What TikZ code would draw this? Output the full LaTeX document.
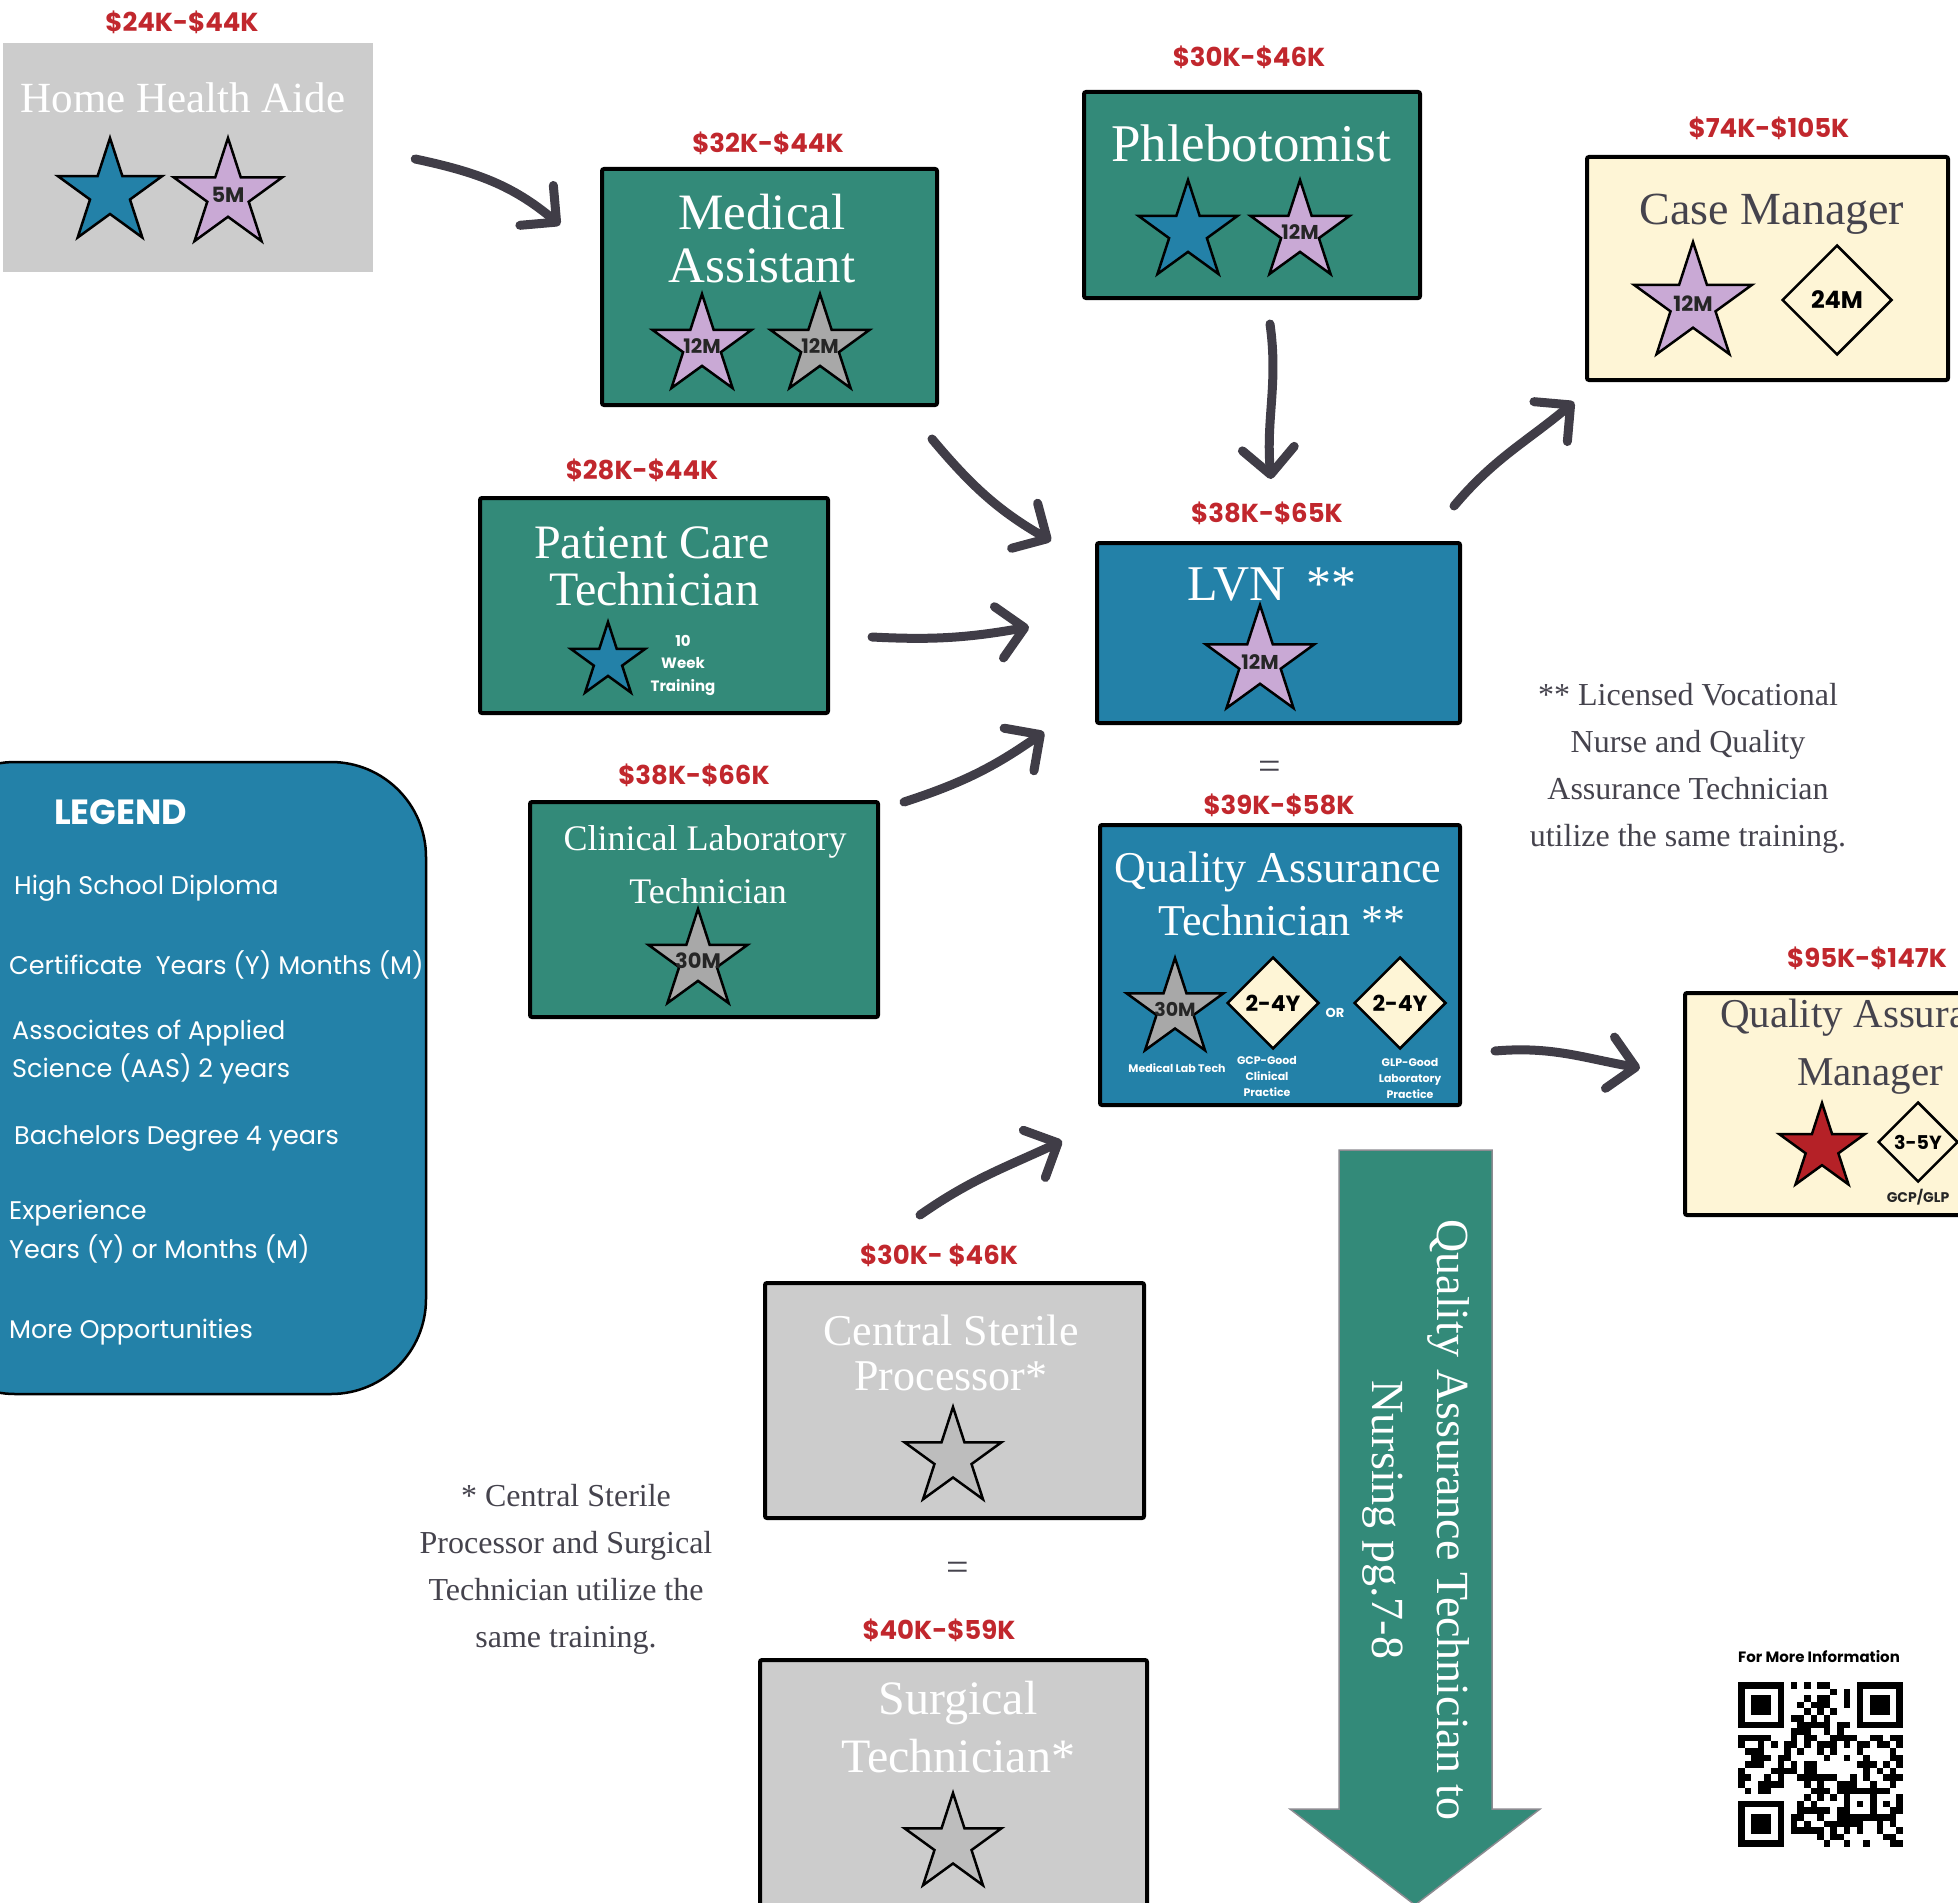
\documentclass[tikz,border=0pt]{standalone}
\usepackage{fontspec}
\setmainfont{Liberation Serif}
\newfontfamily\pop{Poppins}
\usetikzlibrary{shapes.geometric,arrows.meta,calc}
\definecolor{cteal}{HTML}{338A79}
\definecolor{cblue}{HTML}{2381A8}
\definecolor{cgray}{HTML}{CCCCCC}
\definecolor{ccream}{HTML}{FEF5D6}
\definecolor{cpink}{HTML}{C9A9D5}
\definecolor{cstargray}{HTML}{A8A8A8}
\definecolor{cstargrayb}{HTML}{BDBDBD}
\definecolor{cred}{HTML}{B52127}
\definecolor{csal}{HTML}{C1272D}
\definecolor{carrow}{HTML}{403D47}
\definecolor{ctext}{HTML}{45434D}
\tikzset{
  x=1pt,y=1pt,
  box/.style={rectangle, draw=black, line width=4pt, inner sep=0pt, rounded corners=2pt},
  ttl/.style={text=white, font=\fontsize{#1}{#1}\selectfont, anchor=base, inner sep=0pt},
  sal/.style={text=csal, font=\pop\bfseries\fontsize{26}{26}\selectfont, inner sep=0pt},
  stl/.style={star, star points=5, star point ratio=2.618, draw=black, line width=2.5pt, inner sep=0pt, minimum size=#1},
  dia/.style={diamond, aspect=1, draw=black, line width=2.5pt, inner sep=0pt, minimum size=#1, font=\pop\bfseries\fontsize{22}{22}\selectfont},
  slab/.style={font=\pop\bfseries\fontsize{#1}{#1}\selectfont, inner sep=0pt, text=black!85},
  tiny/.style={font=\pop\bfseries\fontsize{11}{16}\selectfont, text=white, inner sep=0pt, align=center},
  leg/.style={font=\pop\fontsize{25.5}{25.5}\selectfont, text=white, anchor=west, inner sep=0pt},
  note/.style={font=\fontsize{32}{47}\selectfont, text=ctext, align=center, inner sep=0pt},
  arr/.style={draw=carrow, line width=9pt, line cap=round, -{Straight Barb[length=26pt, width=52pt, round]}},
}
\begin{document}
\begin{tikzpicture}
\useasboundingbox (0,0) rectangle (1958,-1902);
\begin{scope}
\clip (0,0) rectangle (1958,-1902);

% ---------- boxes ----------
\node[rectangle, fill=cgray, inner sep=0pt, minimum width=370, minimum height=229] (hha) at (188,-157.5) {};
\node[box, fill=cteal, minimum width=335, minimum height=236] (ma) at (769.5,-287) {};
\node[box, fill=cteal, minimum width=336, minimum height=206] (phl) at (1252,-195) {};
\node[box, fill=ccream, minimum width=361, minimum height=223] (cm) at (1767.5,-268.5) {};
\node[box, fill=cteal, minimum width=348, minimum height=215] (pct) at (654,-605.5) {};
\node[box, fill=cblue, minimum width=363, minimum height=180] (lvn) at (1278.5,-633) {};
\node[box, fill=cteal, minimum width=348, minimum height=215] (clt) at (704,-909.5) {};
\node[box, fill=cblue, minimum width=360, minimum height=280] (qat) at (1280,-965) {};
\node[box, fill=ccream, minimum width=315, minimum height=222] (qam) at (1842.5,-1104) {};
\node[box, fill=cgray, minimum width=379, minimum height=235] (csp) at (954.5,-1400.5) {};
\node[box, fill=cgray, minimum width=387, minimum height=270] (st) at (953.5,-1795) {};
\node[rectangle, draw=black, line width=2.5pt, fill=cblue, rounded corners=95pt, minimum width=506, minimum height=632, inner sep=0pt] (legend) at (173,-1078) {};

% ---------- salaries ----------
\node[sal] (s1) at (182,-22) {\$24K-\$44K};
\node[sal] (s2) at (768,-143) {\$32K-\$44K};
\node[sal] (s3) at (1249,-57) {\$30K-\$46K};
\node[sal] (s4) at (1769,-128) {\$74K-\$105K};
\node[sal] (s5) at (642,-470) {\$28K-\$44K};
\node[sal] (s6) at (1267,-513) {\$38K-\$65K};
\node[sal] (s7) at (1279,-805) {\$39K-\$58K};
\node[sal] (s8) at (694,-775) {\$38K-\$66K};
\node[sal] (s9) at (1867,-958) {\$95K-\$147K};
\node[sal] (s10) at (939,-1255) {\$30K- \$46K};
\node[sal] (s11) at (939,-1630) {\$40K-\$59K};

% ---------- titles ----------
\node[ttl=43] (t1) at (183,-113) {Home Health Aide};
\node[ttl=51] (t2a) at (762,-230) {Medical};
\node[ttl=51] (t2b) at (762,-283) {Assistant};
\node[ttl=53] (t3) at (1251,-162) {Phlebotomist};
\node[ttl=46, text=ctext] (t4) at (1772,-225) {Case Manager};
\node[ttl=48] (t5a) at (652,-558) {Patient Care};
\node[ttl=48] (t5b) at (654,-605) {Technician};
\node[ttl=50] (t6) at (1272,-600) {LVN \,**};
\node[ttl=44] (t7a) at (1278,-882) {Quality Assurance};
\node[ttl=44] (t7b) at (1282,-935) {Technician **};
\node[ttl=36] (t8a) at (705,-850) {Clinical Laboratory};
\node[ttl=36] (t8b) at (708,-903) {Technician};
\node[ttl=41, text=ctext, anchor=base west] (t9a) at (1720,-1027) {Quality Assurance};
\node[ttl=41, text=ctext] (t9b) at (1870,-1085) {Manager};
\node[ttl=44] (t10a) at (951,-1345) {Central Sterile};
\node[ttl=44] (t10b) at (951,-1390) {Processor*};
\node[ttl=48] (t11a) at (958,-1714) {Surgical};
\node[ttl=48] (t11b) at (958,-1772) {Technician*};

% ---------- stars and diamonds ----------
\node[stl=110, fill=cblue] (hs1) at (110,-193) {};
\node[stl=114, fill=cpink] (hs2) at (228,-195) {};
\node[slab=21] (hl2) at (hs2.center) {5M};

\node[stl=104, fill=cpink] (ms1) at (702,-346) {};
\node[slab=20] (ml1) at (ms1.center) {12M};
\node[stl=104, fill=cstargray] (ms2) at (820,-346) {};
\node[slab=20] (ml2) at (ms2.center) {12M};

\node[stl=104, fill=cblue] (ps1) at (1188,-232) {};
\node[stl=104, fill=cpink] (ps2) at (1300,-232) {};
\node[slab=20] (pl2) at (ps2.center) {12M};

\node[stl=124, fill=cpink] (cs1) at (1693,-304) {};
\node[slab=21] (cl1) at (cs1.center) {12M};
\node[dia=110, fill=ccream, font=\pop\bfseries\fontsize{24}{24}\selectfont] (cd1) at (1837,-300) {24M};

\node[stl=78, fill=cblue] (pcs) at (608,-661) {};
\node[font=\pop\bfseries\fontsize{15}{22.5}\selectfont, text=white, align=center, inner sep=0pt] (pcl) at (683,-665) {10\\Week\\Training};

\node[stl=114, fill=cpink] (ls1) at (1260,-662) {};
\node[slab=20] (ll1) at (ls1.center) {12M};

\node[stl=104, fill=cstargray] (cls) at (698,-961) {};
\node[slab=21] (cll) at (cls.center) {30M};

\node[stl=102, fill=cstargray] (qs1) at (1175,-1009) {};
\node[slab=19] (ql1) at (qs1.center) {30M};
\node[tiny] (qt1) at (1177,-1068) {Medical Lab Tech};
\node[dia=92, fill=ccream] (qd1) at (1273,-1003) {2-4Y};
\node[tiny] (qt2) at (1267,-1076) {GCP-Good\\Clinical\\Practice};
\node[tiny, font=\pop\bfseries\fontsize{13}{13}\selectfont] (qor) at (1335,-1013) {OR};
\node[dia=92, fill=ccream] (qd2) at (1400,-1003) {2-4Y};
\node[tiny] (qt3) at (1410,-1078) {GLP-Good\\Laboratory\\Practice};

\node[stl=90, fill=cred] (qms) at (1822,-1148) {};
\node[dia=80, fill=ccream, font=\pop\bfseries\fontsize{19}{19}\selectfont] (qmd) at (1918,-1142) {3-5Y};
\node[slab=14] (qml) at (1918,-1197) {GCP/GLP};

\node[stl=102, fill=cstargrayb] (css) at (953,-1458) {};
\node[stl=102, fill=cstargrayb] (sts) at (953,-1844) {};

% ---------- equals and notes ----------
\node[font=\fontsize{40}{40}\selectfont, text=ctext, inner sep=0pt] (eq1) at (1270,-770) {=};
\node[font=\fontsize{40}{40}\selectfont, text=ctext, inner sep=0pt] (eq2) at (958,-1571) {=};
\node[note] (n1) at (1688,-768) {** Licensed Vocational\\Nurse and Quality\\Assurance Technician\\utilize the same training.};
\node[note] (n2) at (566,-1569) {* Central Sterile\\Processor and Surgical\\Technician utilize the\\same training.};

% ---------- legend text ----------
\node[font=\pop\bfseries\fontsize{35}{35}\selectfont, text=white, anchor=west, inner sep=0pt] (lg) at (54,-812) {LEGEND};
\node[leg] (l1) at (14,-888) {High School Diploma};
\node[leg] (l2) at (9,-965) {Certificate\ \ Years (Y) Months (M)};
\node[leg] (l3a) at (12,-1033) {Associates of Applied};
\node[leg] (l3b) at (12,-1069) {Science (AAS) 2 years};
\node[leg] (l4) at (14,-1138) {Bachelors Degree 4 years};
\node[leg] (l5a) at (9,-1213) {Experience};
\node[leg] (l5b) at (9,-1249) {Years (Y) or Months (M)};
\node[leg] (l6) at (9,-1332) {More Opportunities};

% ---------- big arrow ----------
\fill[cteal, draw=carrow!60, line width=1.5pt] (1339,-1150) -- (1492,-1150) -- (1492,-1809) -- (1540,-1809) -- (1415,-1905) -- (1290,-1809) -- (1339,-1809) -- cycle;
\node[rotate=-90, text=white, font=\fontsize{46}{65}\selectfont, align=center, inner sep=0pt] (bigtxt) at (1416,-1520) {Quality Assurance Technician to\\Nursing pg.7-8};

% ---------- QR ----------
\node[font=\pop\bfseries\fontsize{15}{15}\selectfont, inner sep=0pt] (qrt) at (1819,-1657) {For More Information};
\def\qx{1738}\def\qy{1682}\def\qm{6.6}
\foreach \i in {0,...,24}{
  \foreach \j in {0,...,24}{
    \pgfmathtruncatemacro\fin{((\i<8)&&(\j<8))||((\i>16)&&(\j<8))||((\i<8)&&(\j>16))||((\i>15)&&(\i<21)&&(\j>15)&&(\j<21))}
    \pgfmathtruncatemacro\qa{mod(\i*\i*7+\j*\j*11+\i*\j*5+3*\i+5*\j,13)}
    \pgfmathtruncatemacro\qb{mod(\i*\j*\j,7)}
    \pgfmathtruncatemacro\on{mod(\qa+\qb,13)<6}
    \ifnum\fin=0 \ifnum\on=1
      \fill (\qx+\i*\qm,-\qy-\j*\qm) rectangle ++(\qm,-\qm);
    \fi\fi
  }
}
\foreach \fx/\fy in {0/0,18/0,0/18}{
  \fill (\qx+\fx*\qm,-\qy-\fy*\qm) rectangle ++(7*\qm,-7*\qm);
  \fill[white] (\qx+\fx*\qm+\qm,-\qy-\fy*\qm-\qm) rectangle ++(5*\qm,-5*\qm);
  \fill (\qx+\fx*\qm+2*\qm,-\qy-\fy*\qm-2*\qm) rectangle ++(3*\qm,-3*\qm);
}
\fill (\qx+16*\qm,-\qy-16*\qm) rectangle ++(5*\qm,-5*\qm);
\fill[white] (\qx+17*\qm,-\qy-17*\qm) rectangle ++(3*\qm,-3*\qm);
\fill (\qx+18*\qm,-\qy-18*\qm) rectangle ++(\qm,-\qm);

% ---------- arrows ----------
\draw[arr] ([shift={(42,-1.5)}]hha.east) to[out=-12,in=140] ([shift={(-40,62)}]ma.west);
\draw[arr] ([shift={(-7,-32)}]ma.south east) to[out=-50,in=150] ([shift={(-44,0)}]lvn.north west);
\draw[arr] ([shift={(18,-24)}]phl.south) to[out=-82,in=95] ([shift={(-7.5,62)}]lvn.north);
\draw[arr] ([shift={(42,-31.5)}]pct.east) to[out=-3,in=190] ([shift={(-66,6)}]lvn.west);
\draw[arr] ([shift={(24,-2)}]clt.north east) to[out=18,in=-145] ([shift={(-51,-7)}]lvn.south west);
\draw[arr] ([shift={(-8,35)}]lvn.north east) to[out=50,in=-140] ([shift={(-11,-20)}]cm.south west);
\draw[arr] ([shift={(33,-86)}]qat.east) to[out=5,in=170] ([shift={(-43,36)}]qam.west);
\draw[arr] ([shift={(-34.5,66)}]csp.north) to[out=35,in=-155] ([shift={(-36,-34)}]qat.south west);
\end{scope}
\end{tikzpicture}
\end{document}
